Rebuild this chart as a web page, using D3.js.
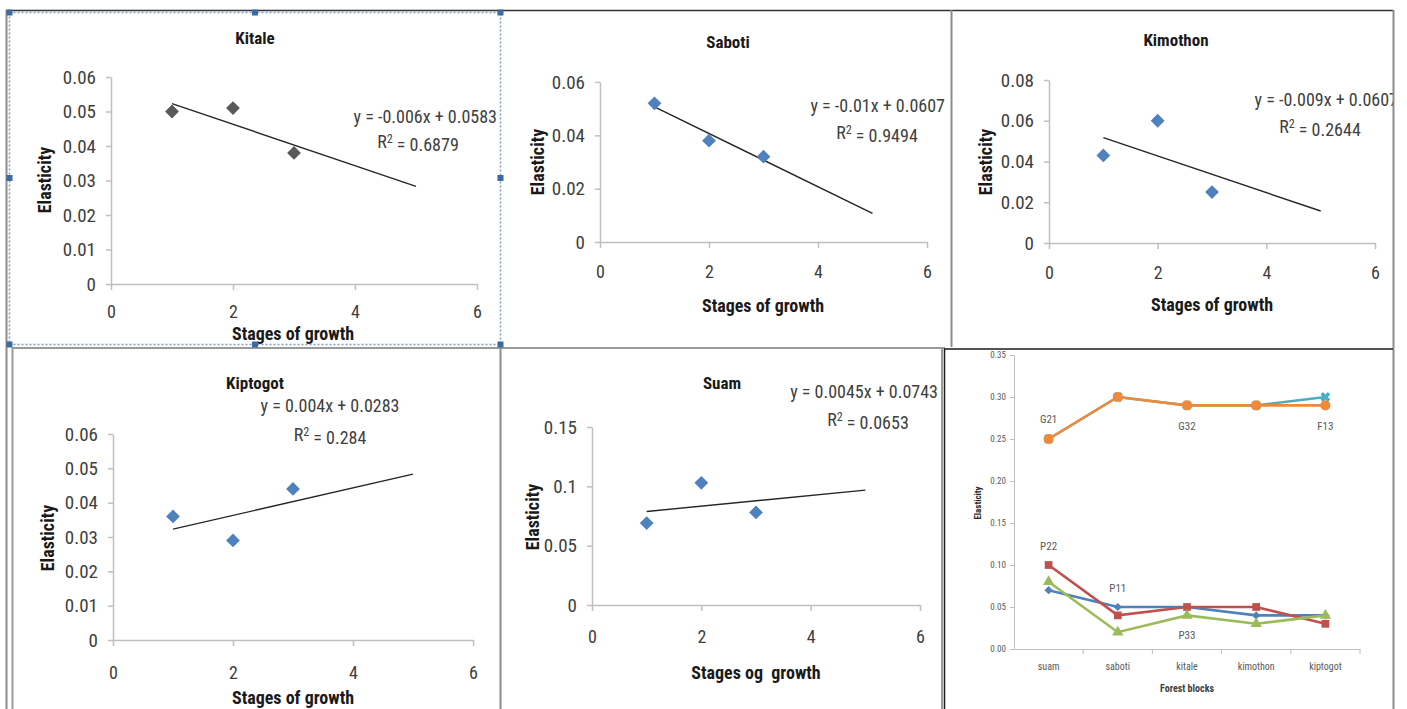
<!DOCTYPE html>
<html>
<head>
<meta charset="utf-8">
<script src="https://cdn.jsdelivr.net/npm/d3@7"></script>
<style>
  body { margin: 0; background: #fff; }
  svg { display: block; }
</style>
</head>
<body>
<div id="chart"></div>
<script>
// ---- data ----
const stages = [1, 2, 3];

const kitaleVals   = [0.050, 0.051, 0.038];
const sabotiVals   = [0.052, 0.038, 0.032];
const kimothonVals = [0.043, 0.060, 0.025];
const kiptogotVals = [0.036, 0.029, 0.044];
const suamVals     = [0.069, 0.103, 0.078];

// trendline equations as printed on each chart
const trendSlopes     = { kitale: -0.006, saboti: -0.01, kimothon: -0.009, kiptogot: 0.004, suam: 0.0045 };
const trendIntercepts = { kitale: 0.0583, saboti: 0.0607, kimothon: 0.0607, kiptogot: 0.0283, suam: 0.0743 };
const trendR2         = { kitale: "0.6879", saboti: "0.9494", kimothon: "0.2644", kiptogot: "0.284", suam: "0.0653" };

// forest blocks line chart
const blocks     = ["suam", "saboti", "kitale", "kimothon", "kiptogot"];
const blueVals   = [0.07, 0.05, 0.05, 0.04, 0.04];
const redVals    = [0.10, 0.04, 0.05, 0.05, 0.03];
const greenVals  = [0.08, 0.02, 0.04, 0.03, 0.04];
const tealVals   = [0.25, 0.30, 0.29, 0.29, 0.30];
const orangeVals = [0.25, 0.30, 0.29, 0.29, 0.29];
const blockYTicks = [0, 0.05, 0.10, 0.15, 0.20, 0.25, 0.30, 0.35];

const labelTexts  = ["G21", "G32", "F13", "P22", "P11", "P33"];
const labelBlocks = ["suam", "kitale", "kiptogot", "suam", "saboti", "kitale"];
const labelVals   = [0.274, 0.265, 0.265, 0.123, 0.073, 0.016];

const W = 1407, H = 709;
const FONT = "'Liberation Sans Narrow', 'Roboto Condensed', 'Liberation Sans', sans-serif";
const AXIS_GREY = "#bfbfbf";
const TEXT = "#404040";

const svg = d3.select("#chart").append("svg")
  .attr("width", W).attr("height", H)
  .style("font-family", FONT);

const fmt = d => String(+d.toFixed(4));

function scatterPanel(p) {
  const g = svg.append("g");
  const x = d3.scaleLinear().domain([0, 6]).range([p.x0, p.x1]);
  const y = d3.scaleLinear().domain([0, p.yMax]).range([p.yBot, p.yTop]);
  const yTicks = d3.range(0, Math.round(p.yMax / p.step) + 1).map(i => +(i * p.step).toFixed(4));

  // y axis
  const ya = g.append("g")
    .attr("transform", `translate(${p.x0},0)`)
    .call(d3.axisLeft(y).tickValues(yTicks).tickSize(5).tickSizeOuter(0).tickPadding(10).tickFormat(fmt));
  ya.select(".domain").attr("stroke", AXIS_GREY).attr("stroke-width", 1.5);
  ya.selectAll(".tick line").attr("stroke", AXIS_GREY).attr("stroke-width", 1.5);
  ya.selectAll(".tick text").attr("fill", TEXT).style("font-size", "19px").style("font-family", FONT);

  // x axis
  const xa = g.append("g")
    .attr("transform", `translate(0,${p.yBot})`)
    .call(d3.axisBottom(x).tickValues([0, 2, 4, 6]).tickSize(6).tickSizeOuter(0).tickFormat(d3.format("d")));
  xa.select(".domain").attr("stroke", AXIS_GREY).attr("stroke-width", 1.5);
  xa.selectAll(".tick line").attr("stroke", AXIS_GREY).attr("stroke-width", 1.5);
  xa.selectAll(".tick text").attr("fill", TEXT).style("font-size", "18px").style("font-family", FONT)
    .attr("y", p.xLabelDy).attr("dy", "0.35em");

  // trendline from x=1 to x=5
  const a = trendSlopes[p.key], b = trendIntercepts[p.key];
  g.append("path")
    .datum([1, 5])
    .attr("d", d3.line().x(d => x(d)).y(d => y(a * d + b)))
    .attr("stroke", "#262626").attr("stroke-width", 1.4).attr("fill", "none");

  // markers
  g.selectAll(".pt").data(p.vals).enter()
    .append("path")
    .attr("d", d3.symbol().type(d3.symbolSquare).size(95))
    .attr("transform", (d, i) => `translate(${x(stages[i])},${y(d)}) rotate(45)`)
    .attr("fill", p.color);

  // titles
  g.append("text").attr("x", p.title[0]).attr("y", p.title[1]).attr("text-anchor", "middle")
    .attr("dy", "0.35em").style("font-weight", "bold").style("font-size", "17px").attr("fill", "#1a1a1a")
    .text(p.name);
  g.append("text").attr("x", p.xTitle[0]).attr("y", p.xTitle[1]).attr("text-anchor", "middle")
    .attr("dy", "0.35em").style("font-weight", "bold").style("font-size", "18px").attr("fill", "#1a1a1a")
    .style("white-space", "pre")
    .text(p.xText || "Stages of growth");
  g.append("text").attr("transform", `translate(${p.yTitle[0]},${p.yTitle[1]}) rotate(-90)`)
    .attr("text-anchor", "middle").attr("dy", "0.35em")
    .style("font-weight", "bold").style("font-size", "18px").attr("fill", "#1a1a1a")
    .text("Elasticity");

  // equation
  const sign = b >= 0 ? " + " : " - ";
  g.append("text").attr("x", p.eq[0]).attr("y", p.eq[1]).attr("text-anchor", p.eqAnchor)
    .attr("dy", "0.35em").style("font-size", "18px").attr("fill", TEXT)
    .text(`y = ${a}x${sign}${Math.abs(b)}`);
  const r = g.append("text").attr("x", p.r2[0]).attr("y", p.r2[1]).attr("text-anchor", "middle")
    .attr("dy", "0.35em").style("font-size", "18px").attr("fill", TEXT);
  r.append("tspan").text("R");
  r.append("tspan").attr("dy", "-0.45em").style("font-size", "12px").text("2");
  r.append("tspan").attr("dy", "0.45em").text(" = " + trendR2[p.key]);
}

scatterPanel({ key: "kitale", name: "Kitale", vals: kitaleVals, color: "#595959",
  x0: 111, x1: 477, yTop: 77, yBot: 284, yMax: 0.06, step: 0.01, xLabelDy: 28,
  title: [255, 38], xTitle: [293, 334], yTitle: [45, 180],
  eq: [497, 117], eqAnchor: "end", r2: [418, 142] });

scatterPanel({ key: "saboti", name: "Saboti", vals: sabotiVals, color: "#4F81BD",
  x0: 600, x1: 927, yTop: 82, yBot: 242, yMax: 0.06, step: 0.02, xLabelDy: 30,
  title: [728, 42], xTitle: [763, 306], yTitle: [538, 162],
  eq: [945, 106], eqAnchor: "end", r2: [877, 133] });

scatterPanel({ key: "kimothon", name: "Kimothon", vals: kimothonVals, color: "#4F81BD",
  x0: 1049, x1: 1375, yTop: 80, yBot: 243, yMax: 0.08, step: 0.02, xLabelDy: 30,
  title: [1176, 40], xTitle: [1212, 305], yTitle: [986, 162],
  eq: [1398, 100], eqAnchor: "end", r2: [1320, 127] });

scatterPanel({ key: "kiptogot", name: "Kiptogot", vals: kiptogotVals, color: "#4F81BD",
  x0: 113, x1: 473, yTop: 434, yBot: 640, yMax: 0.06, step: 0.01, xLabelDy: 33,
  title: [255, 383], xTitle: [293, 698], yTitle: [48, 538],
  eq: [330, 406], eqAnchor: "middle", r2: [330, 435] });

scatterPanel({ key: "suam", name: "Suam", vals: suamVals, color: "#4F81BD",
  x0: 592, x1: 920, yTop: 427, yBot: 605, yMax: 0.15, step: 0.05, xLabelDy: 32,
  title: [722, 383], xTitle: [756, 673], xText: "Stages og  growth", yTitle: [533, 517],
  eq: [938, 392], eqAnchor: "end", r2: [868, 420] });

// ---- forest blocks line chart ----
const lg = svg.append("g");
const bx = d3.scaleBand().domain(blocks).range([1014, 1360]);
const by = d3.scaleLinear().domain([0, 0.35]).range([649, 355]);
const cx = c => bx(c) + bx.bandwidth() / 2;

const bya = lg.append("g").attr("transform", "translate(1014,0)")
  .call(d3.axisLeft(by).tickValues(blockYTicks).tickSize(4).tickSizeOuter(0).tickPadding(4).tickFormat(d3.format(".2f")));
bya.select(".domain").attr("stroke", AXIS_GREY);
bya.selectAll(".tick line").attr("stroke", AXIS_GREY);
bya.selectAll(".tick text").attr("fill", "#595959").style("font-size", "9px").style("font-family", FONT);

const bxa = lg.append("g").attr("transform", "translate(0,649)")
  .call(d3.axisBottom(bx).tickSize(0).tickSizeOuter(0).tickPadding(14));
bxa.select(".domain").attr("stroke", AXIS_GREY);
bxa.selectAll(".tick text").attr("fill", "#595959").style("font-size", "10px").style("font-family", FONT);
lg.selectAll(".bt").data(blocks).enter().append("line")
  .attr("x1", d => bx(d) + bx.bandwidth()).attr("x2", d => bx(d) + bx.bandwidth())
  .attr("y1", 649).attr("y2", 654).attr("stroke", AXIS_GREY);

lg.append("text").attr("x", 1187).attr("y", 688).attr("text-anchor", "middle").attr("dy", "0.35em")
  .style("font-weight", "bold").style("font-size", "10px").attr("fill", "#404040").text("Forest blocks");
lg.append("text").attr("transform", "translate(978,503) rotate(-90)").attr("text-anchor", "middle")
  .attr("dy", "0.35em").style("font-weight", "bold").style("font-size", "9px").attr("fill", "#262626").text("Elasticity");

const series = [
  { vals: blueVals,   color: "#4F81BD", sym: "diamond" },
  { vals: redVals,    color: "#C0504D", sym: "square" },
  { vals: greenVals,  color: "#9BBB59", sym: "triangle" },
  { vals: tealVals,   color: "#4BACC6", sym: "cross" },
  { vals: orangeVals, color: "#EE8A3A", sym: "circle" }
];
const bline = d3.line().x((d, i) => cx(blocks[i])).y(d => by(d));
series.forEach(s => {
  lg.append("path").datum(s.vals).attr("d", bline)
    .attr("fill", "none").attr("stroke", s.color).attr("stroke-width", 2.6);
  const m = lg.selectAll(null).data(s.vals).enter().append("path")
    .attr("transform", (d, i) => `translate(${cx(blocks[i])},${by(d)})` + (s.sym === "diamond" || s.sym === "cross" ? " rotate(45)" : ""));
  if (s.sym === "diamond") m.attr("d", d3.symbol().type(d3.symbolSquare).size(34)).attr("fill", s.color);
  if (s.sym === "square") m.attr("d", d3.symbol().type(d3.symbolSquare).size(60)).attr("fill", s.color);
  if (s.sym === "triangle") m.attr("d", d3.symbol().type(d3.symbolTriangle).size(55)).attr("fill", s.color);
  if (s.sym === "circle") m.attr("d", d3.symbol().type(d3.symbolCircle).size(80)).attr("fill", s.color);
  if (s.sym === "cross") m.attr("d", d3.symbol().type(d3.symbolCross).size(60)).attr("fill", s.color);
});

lg.selectAll(".lbl").data(labelTexts).enter().append("text")
  .attr("x", (d, i) => cx(labelBlocks[i])).attr("y", (d, i) => by(labelVals[i]))
  .attr("text-anchor", "middle").attr("dy", "0.35em")
  .style("font-size", "11px").attr("fill", "#595959").text(d => d);

// ---- frames of the pasted charts ----
const fr = svg.append("g");
fr.append("rect").attr("x", 1394).attr("y", 0).attr("width", 13).attr("height", H).attr("fill", "#fff");
const grey = (x1, y1, x2, y2, c, w) => fr.append("line").attr("x1", x1).attr("y1", y1).attr("x2", x2).attr("y2", y2)
  .attr("stroke", c || "#8c8c8c").attr("stroke-width", w || 2);
grey(6, 10.5, 1393, 10.5, "#333", 1.5);
grey(6.5, 10, 6.5, H, "#8c8c8c", 2);
grey(1393.5, 10, 1393.5, H, "#8c8c8c", 2);
grey(951.5, 10, 951.5, 347, "#8c8c8c", 2);
grey(12, 348, 945, 348, "#9a9a9a", 2);
grey(12.5, 348, 12.5, H, "#9a9a9a", 2);
grey(500.5, 348, 500.5, H, "#8c8c8c", 2);
grey(942, 348, 942, H, "#9a9a9a", 2);
grey(944, 349, 1393, 349, "#1a1a1a", 1.5);
grey(944.5, 349, 944.5, H, "#1a1a1a", 1.5);

// selection outline around the first chart
fr.append("rect").attr("x", 9.5).attr("y", 12.5).attr("width", 491).attr("height", 332)
  .attr("fill", "none").attr("stroke", "#7f9cc4").attr("stroke-width", 1.5).attr("stroke-dasharray", "2,2");
const hx = [9.5, 255, 500.5], hy = [12.5, 178, 344.5];
hx.forEach(x => hy.forEach(y => {
  if (x === 255 && y === 178) return;
  fr.append("rect").attr("x", x - 3).attr("y", y - 3).attr("width", 6).attr("height", 6).attr("fill", "#3d6aa3");
}));
</script>
</body>
</html>
